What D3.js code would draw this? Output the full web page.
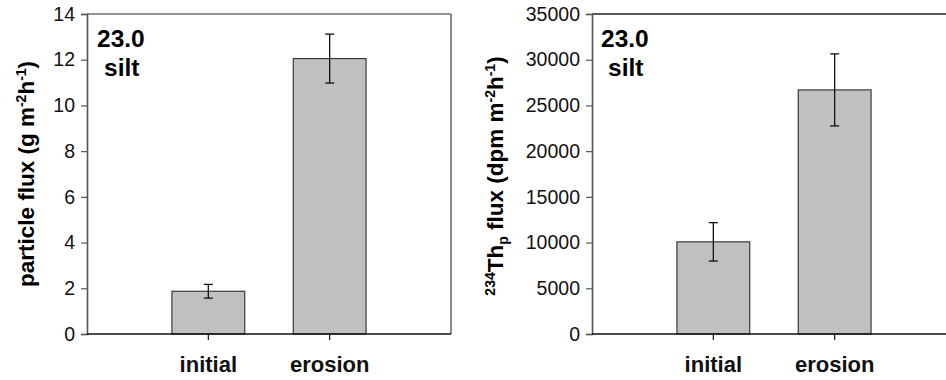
<!DOCTYPE html>
<html>
<head>
<meta charset="utf-8">
<script src="https://cdn.jsdelivr.net/npm/d3@7"></script>
<style>
  html, body { margin: 0; padding: 0; background: #fff; }
  svg { display: block; font-family: "Liberation Sans", Arial, sans-serif; }
</style>
</head>
<body>
<svg id="chart" width="946" height="380"></svg>
<script>
// ---- data ----
const categories = ["initial", "erosion"];
const particleFlux = [1.87, 12.05];
const particleErr = [0.30, 1.07];
const thFlux = [10080, 26700];
const thErr = [2100, 3940];
const particleTicks = [0, 2, 4, 6, 8, 10, 12, 14];
const thTicks = [0, 5000, 10000, 15000, 20000, 25000, 30000, 35000];
const annotation = ["23.0", "silt"];

const svg = d3.select("#chart");

function panel(opts) {
  const { x0, x1, yTop, yBot, values, errs, ticks, yMax, labelX, labelY, labelParts, annX, topColor } = opts;
  const g = svg.append("g");
  const x = d3.scaleBand().domain(categories).range([x0, x1]).paddingInner(0.4).paddingOuter(0.7);
  const y = d3.scaleLinear().domain([0, yMax]).range([yBot, yTop]);

  // frame top/right
  g.append("line").attr("x1", x0).attr("x2", x1).attr("y1", yTop).attr("y2", yTop)
    .attr("stroke", topColor).attr("stroke-width", 1.6);
  g.append("line").attr("x1", x1).attr("x2", x1).attr("y1", yTop).attr("y2", yBot)
    .attr("stroke", "#6e6e6e").attr("stroke-width", 1.6);

  // bars
  g.selectAll("rect.bar").data(values).join("rect")
    .attr("x", (d, i) => x(categories[i]))
    .attr("width", x.bandwidth())
    .attr("y", d => y(d))
    .attr("height", d => y(0) - y(d))
    .attr("fill", "#c0c0c0")
    .attr("stroke", "#3a3a3a")
    .attr("stroke-width", 1.2);

  // error bars
  const cap = 4.5;
  values.forEach((v, i) => {
    const cx = x(categories[i]) + x.bandwidth() / 2;
    const hi = y(v + errs[i]), lo = y(v - errs[i]);
    g.append("line").attr("x1", cx).attr("x2", cx).attr("y1", hi).attr("y2", lo)
      .attr("stroke", "#111").attr("stroke-width", 1.3);
    [hi, lo].forEach(yy => g.append("line").attr("x1", cx - cap).attr("x2", cx + cap)
      .attr("y1", yy).attr("y2", yy).attr("stroke", "#111").attr("stroke-width", 1.3));
  });

  // y axis
  const ya = g.append("g").attr("transform", `translate(${x0},0)`)
    .call(d3.axisLeft(y).tickValues(ticks).tickFormat(d3.format("d")).tickSize(6).tickPadding(6));
  ya.select(".domain").attr("stroke", "#555").attr("stroke-width", 1.6);
  ya.selectAll(".tick line").attr("stroke", "#555").attr("stroke-width", 1.2);
  ya.selectAll(".tick text").attr("font-size", 19.5).attr("fill", "#111")
    .attr("font-family", "Liberation Sans, Arial, sans-serif");

  // x axis
  const xa = g.append("g").attr("transform", `translate(0,${yBot})`)
    .call(d3.axisBottom(x).tickSize(6).tickPadding(12));
  xa.select(".domain").attr("d", `M${x0},0H${x1}`).attr("stroke", "#111").attr("stroke-width", 1.6);
  xa.selectAll(".tick line").attr("stroke", "#111").attr("stroke-width", 1.2);
  xa.selectAll(".tick text").attr("font-size", 22).attr("font-weight", "bold").attr("fill", "#111")
    .attr("font-family", "Liberation Sans, Arial, sans-serif").attr("dy", "0.9em");

  // annotation
  g.append("text").attr("x", annX).attr("y", 47).attr("font-size", 24.5).attr("font-weight", "bold")
    .attr("fill", "#000").text(annotation[0]);
  g.append("text").attr("x", annX + 7).attr("y", 76).attr("font-size", 24.5).attr("font-weight", "bold")
    .attr("fill", "#000").text(annotation[1]);

  // y label
  const t = g.append("text").attr("transform", `translate(${labelX},${labelY}) rotate(-90)`)
    .attr("text-anchor", "middle").attr("font-size", 22.5).attr("font-weight", "bold").attr("fill", "#000");
  let shift = 0;
  labelParts.forEach(p => {
    const ts = t.append("tspan").text(p.t);
    const target = p.sup ? -8.5 : (p.sub ? 5 : 0);
    ts.attr("dy", target - shift);
    shift = target;
    if (p.sup || p.sub) ts.attr("font-size", 14);
  });
}

panel({
  x0: 87, x1: 451, yTop: 14, yBot: 334, values: particleFlux, errs: particleErr,
  ticks: particleTicks, yMax: 14, labelX: 34, labelY: 174, annX: 97, topColor: "#6e6e6e",
  labelParts: [{t: "particle flux (g m"}, {t: "-2", sup: true}, {t: "h"}, {t: "-1", sup: true}, {t: ")"}]
});
panel({
  x0: 592, x1: 956, yTop: 14, yBot: 334, values: thFlux, errs: thErr,
  ticks: thTicks, yMax: 35000, labelX: 503, labelY: 176, annX: 601, topColor: "#222",
  labelParts: [{t: "234", sup: true}, {t: "Th"}, {t: "p", sub: true}, {t: " flux (dpm m"}, {t: "-2", sup: true}, {t: "h"}, {t: "-1", sup: true}, {t: ")"}]
});
</script>
</body>
</html>
